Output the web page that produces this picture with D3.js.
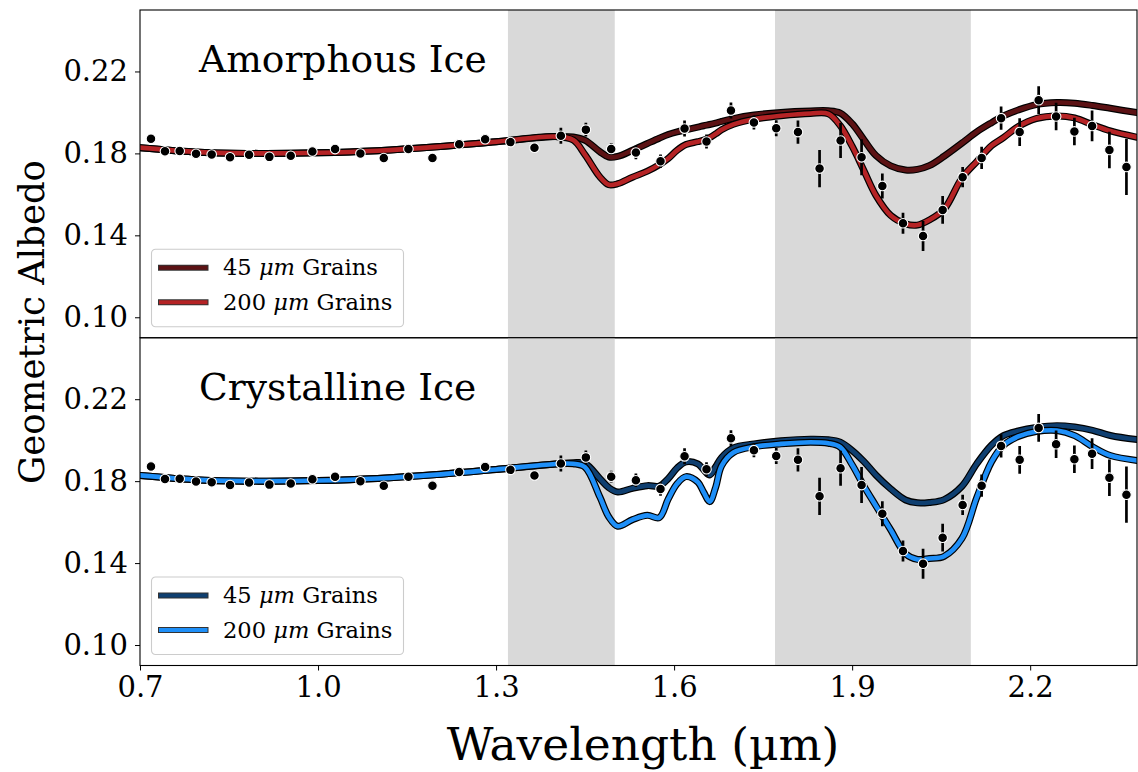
<!DOCTYPE html>
<html>
<head>
<meta charset="utf-8">
<script src="https://cdn.jsdelivr.net/npm/d3@7"></script>
<style>
  html, body { margin: 0; padding: 0; background: #fff; }
  svg { display: block; font-family: "DejaVu Serif", serif; }
</style>
</head>
<body>
<svg id="chart" width="1138" height="772"></svg>
<script>
// ---- Data -------------------------------------------------------------
// Model wavelength grid (µm) shared by the four model spectra
const modelWavelength = [0.70, 0.80, 0.90, 1.00, 1.10, 1.20, 1.30, 1.40, 1.43, 1.45,
  1.475, 1.49, 1.505, 1.53, 1.555, 1.575, 1.59, 1.605, 1.62, 1.64,
  1.65, 1.66, 1.67, 1.68, 1.70, 1.735, 1.78, 1.83, 1.86, 1.88,
  1.90, 1.92, 1.94, 1.965, 1.99, 2.01, 2.03, 2.055, 2.085, 2.11,
  2.135, 2.155, 2.18, 2.21, 2.245, 2.275, 2.305, 2.335, 2.38];

const amorphous45 = [0.1828, 0.1806, 0.1800, 0.1803, 0.1813, 0.1832, 0.1857, 0.1882, 0.1880, 0.1864,
  0.1808, 0.1782, 0.1785, 0.1815, 0.1848, 0.1874, 0.1892, 0.1905, 0.1915, 0.1928,
  0.1935, 0.1941, 0.1948, 0.1956, 0.1970, 0.1987, 0.2000, 0.2007, 0.2008, 0.1997,
  0.1945, 0.1866, 0.1790, 0.1739, 0.1719, 0.1722, 0.1740, 0.1786, 0.1850, 0.1905,
  0.1950, 0.1983, 0.2012, 0.2038, 0.2048, 0.2045, 0.2034, 0.2020, 0.1999];

const amorphous200 = [0.1828, 0.1806, 0.1800, 0.1803, 0.1813, 0.1832, 0.1857, 0.1882, 0.1865, 0.1793,
  0.1685, 0.1647, 0.1652, 0.1684, 0.1713, 0.1745, 0.1775, 0.1815, 0.1843, 0.1857,
  0.1865, 0.1877, 0.1895, 0.1915, 0.1942, 0.1967, 0.1984, 0.1995, 0.1993, 0.1935,
  0.1835, 0.1715, 0.1595, 0.1497, 0.1456, 0.1450, 0.1475, 0.1527, 0.1680, 0.1760,
  0.1838, 0.1877, 0.1931, 0.1970, 0.1983, 0.1973, 0.1940, 0.1910, 0.1879];

const crystalline45 = [0.1828, 0.1806, 0.1800, 0.1803, 0.1813, 0.1832, 0.1857, 0.1884, 0.1890, 0.1886,
  0.1812, 0.1768, 0.1747, 0.1765, 0.1778, 0.1776, 0.1812, 0.1864, 0.1894, 0.1884,
  0.1855, 0.1830, 0.1870, 0.1915, 0.1962, 0.1982, 0.1997, 0.2005, 0.2002, 0.1990,
  0.1950, 0.1895, 0.1830, 0.1762, 0.1708, 0.1694, 0.1696, 0.1710, 0.1775, 0.1885,
  0.1976, 0.2022, 0.2045, 0.2062, 0.2071, 0.2064, 0.2048, 0.2023, 0.2003];

const crystalline200 = [0.1828, 0.1806, 0.1800, 0.1803, 0.1813, 0.1832, 0.1857, 0.1884, 0.1885, 0.1868,
  0.1722, 0.1625, 0.1580, 0.1612, 0.1633, 0.1622, 0.1712, 0.1787, 0.1822, 0.1795,
  0.1745, 0.1700, 0.1770, 0.1875, 0.1940, 0.1968, 0.1982, 0.1990, 0.1985, 0.1966,
  0.1880, 0.1775, 0.1680, 0.1562, 0.1445, 0.1418, 0.1422, 0.1433, 0.1520, 0.1720,
  0.1895, 0.1975, 0.2018, 0.2042, 0.2047, 0.2022, 0.1968, 0.1925, 0.1901];

// Measured geometric albedo with 1-sigma uncertainties
const obsWavelength = [0.7185, 0.7421, 0.7669, 0.7944, 0.8208, 0.8517, 0.8838, 0.9180, 0.9540, 0.9905,
  1.0287, 1.0714, 1.1108, 1.1523, 1.1928, 1.2378, 1.2816, 1.3242, 1.3647, 1.4092,
  1.4513, 1.4940, 1.5356, 1.5771, 1.6176, 1.6546, 1.6958, 1.7345, 1.7721, 1.8087,
  1.8451, 1.8805, 1.9159, 1.9509, 1.9857, 2.0195, 2.0525, 2.0862, 2.1182, 2.1510,
  2.1823, 2.2143, 2.2437, 2.2745, 2.3043, 2.3335, 2.3622];

const obsAlbedo = [0.1871, 0.1810, 0.1812, 0.1798, 0.1794, 0.1781, 0.1793, 0.1783, 0.1788, 0.1809,
  0.1821, 0.1799, 0.1777, 0.1821, 0.1778, 0.1845, 0.1869, 0.1855, 0.1828, 0.1886,
  0.1916, 0.1822, 0.1804, 0.1762, 0.1921, 0.1858, 0.2009, 0.1951, 0.1923, 0.1904,
  0.1726, 0.1863, 0.1781, 0.1641, 0.1459, 0.1397, 0.1524, 0.1684, 0.1778, 0.1972,
  0.1904, 0.2060, 0.1980, 0.1907, 0.1934, 0.1817, 0.1734];

const obsError = [0.0015, 0.0015, 0.0015, 0.0015, 0.0015, 0.0015, 0.0015, 0.0015, 0.0015, 0.0015,
  0.0015, 0.0015, 0.0015, 0.0015, 0.0015, 0.0015, 0.0018, 0.0018, 0.0020, 0.0039,
  0.0033, 0.0029, 0.0033, 0.0033, 0.0039, 0.0034, 0.0039, 0.0034, 0.0039, 0.0057,
  0.0091, 0.0085, 0.0088, 0.0061, 0.0051, 0.0073, 0.0068, 0.0049, 0.0054, 0.0057,
  0.0068, 0.0068, 0.0067, 0.0067, 0.0075, 0.0089, 0.0137];

// Shaded absorption windows (µm)
const bandStart = [1.32, 1.77];
const bandEnd = [1.50, 2.10];

const xTicks = [0.7, 1.0, 1.3, 1.6, 1.9, 2.2];
const yTicks = [0.10, 0.14, 0.18, 0.22];

const panelTitles = ["Amorphous Ice", "Crystalline Ice"];
const grainSizes = ["45", "200"];
const panelSeries = [[amorphous45, amorphous200], [crystalline45, crystalline200]];
const panelColors = [["#5c1214", "#b52325"], ["#0f3f70", "#1e8ff8"]];

// ---- Layout -----------------------------------------------------------
const svg = d3.select("#chart");
const plotLeft = 140, plotRight = 1137, plotTop = 10, panelH = 327.75;
const plotBottom = plotTop + 2 * panelH;

const x = d3.scaleLinear().domain([0.7, 2.38]).range([plotLeft, plotRight]);

const makeLine = (yScale) => d3.line()
  .x((d, i) => x(modelWavelength[i]))
  .y(d => yScale(d))
  .curve(d3.curveCatmullRom.alpha(0.5));

panelTitles.forEach((title, p) => {
  const y0 = plotTop + p * panelH;
  const y = d3.scaleLinear().domain([0.09, 0.25]).range([y0 + panelH, y0]);
  const g = svg.append("g");

  const clipId = "clip" + p;
  svg.append("clipPath").attr("id", clipId)
    .append("rect").attr("x", plotLeft).attr("y", y0).attr("width", plotRight - plotLeft).attr("height", panelH);

  const plot = g.append("g").attr("clip-path", `url(#${clipId})`);

  // shaded windows
  plot.selectAll("rect.band").data(bandStart).join("rect")
    .attr("class", "band")
    .attr("x", d => x(d))
    .attr("width", (d, i) => x(bandEnd[i]) - x(d))
    .attr("y", y0).attr("height", panelH)
    .attr("fill", "#d9d9d9");

  // model spectra: black outline under a coloured core
  panelSeries[p].forEach((series, s) => {
    const path = makeLine(y)(series);
    plot.append("path").attr("d", path).attr("fill", "none")
      .attr("stroke", "#000").attr("stroke-width", 7)
      .attr("stroke-linejoin", "round").attr("stroke-linecap", "round");
    plot.append("path").attr("d", path).attr("fill", "none")
      .attr("stroke", panelColors[p][s]).attr("stroke-width", 4.6)
      .attr("stroke-linejoin", "round").attr("stroke-linecap", "round");
  });

  // observations
  plot.selectAll("line.err").data(obsWavelength).join("line")
    .attr("class", "err")
    .attr("x1", d => x(d)).attr("x2", d => x(d))
    .attr("y1", (d, i) => y(obsAlbedo[i] - obsError[i]))
    .attr("y2", (d, i) => y(obsAlbedo[i] + obsError[i]))
    .attr("stroke", "#000").attr("stroke-width", 2.7);
  plot.selectAll("circle.obs").data(obsWavelength).join("circle")
    .attr("class", "obs")
    .attr("cx", d => x(d))
    .attr("cy", (d, i) => y(obsAlbedo[i]))
    .attr("r", 4.8)
    .attr("fill", "#000").attr("stroke", "#fff").attr("stroke-width", 1.1);

  // y axis
  const ya = g.append("g").attr("transform", `translate(${plotLeft},0)`)
    .call(d3.axisLeft(y).tickValues(yTicks).tickFormat(d3.format(".2f"))
      .tickSize(5).tickSizeOuter(0).tickPadding(7));
  ya.select(".domain").remove();
  ya.selectAll("text").attr("font-size", 29).attr("font-family", "DejaVu Serif").attr("fill", "#000");
  ya.selectAll("line").attr("stroke", "#000");

  // frame
  g.append("rect").attr("x", plotLeft).attr("y", y0).attr("width", plotRight - plotLeft).attr("height", panelH)
    .attr("fill", "none").attr("stroke", "#000").attr("stroke-width", 1.1);

  // panel title
  g.append("text").attr("x", 199).attr("y", y0 + 62).text(title)
    .attr("font-size", 37.6).attr("fill", "#000");

  // legend
  const lg = g.append("g").attr("transform", `translate(151.5, ${y0 + panelH - 88.5})`);
  lg.append("rect").attr("width", 252).attr("height", 77.5).attr("rx", 4)
    .attr("fill", "#fff").attr("fill-opacity", 0.8)
    .attr("stroke", "#cccccc").attr("stroke-width", 1.1);
  grainSizes.forEach((gs, s) => {
    const cy = 18.5 + s * 34.5;
    lg.append("line").attr("x1", 6.5).attr("x2", 57).attr("y1", cy).attr("y2", cy)
      .attr("stroke", "#333").attr("stroke-width", 6.2);
    lg.append("line").attr("x1", 7.5).attr("x2", 56).attr("y1", cy).attr("y2", cy)
      .attr("stroke", panelColors[p][s]).attr("stroke-width", 4.2);
    const t = lg.append("text").attr("x", 71.5).attr("y", cy + 7.5)
      .attr("font-size", 22.6).attr("fill", "#000");
    t.append("tspan").text(gs + " ");
    t.append("tspan").attr("font-style", "italic").text("μm");
    t.append("tspan").text(" Grains");
  });
});

// shared x axis along the lower panel
const xa = svg.append("g").attr("transform", `translate(0,${plotBottom})`)
  .call(d3.axisBottom(x).tickValues(xTicks).tickFormat(d3.format(".1f"))
    .tickSize(5).tickSizeOuter(0).tickPadding(6));
xa.select(".domain").remove();
xa.selectAll("text").attr("font-size", 29).attr("font-family", "DejaVu Serif").attr("fill", "#000");
xa.selectAll("line").attr("stroke", "#000");

// axis titles
svg.append("text").attr("x", 643).attr("y", 760).attr("text-anchor", "middle")
  .attr("font-size", 45.5).attr("fill", "#000").text("Wavelength (µm)");
svg.append("text").attr("transform", "translate(44,322) rotate(-90)").attr("text-anchor", "middle")
  .attr("font-size", 35.5).attr("fill", "#000").text("Geometric Albedo");
</script>
</body>
</html>
